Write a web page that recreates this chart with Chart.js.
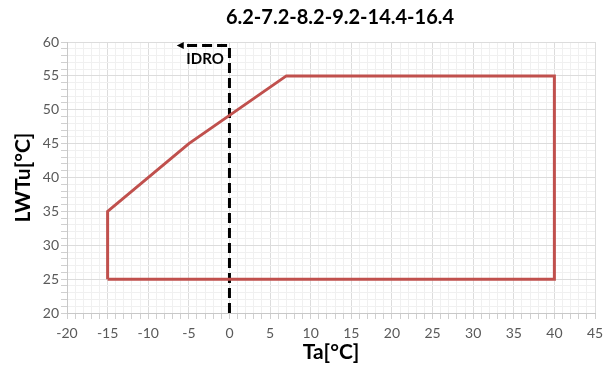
<!DOCTYPE html>
<html>
<head>
<meta charset="utf-8">
<script src="https://cdn.jsdelivr.net/npm/chart.js@4.4.1/dist/chart.umd.min.js"></script>
<style>
  html, body { margin: 0; padding: 0; background: #fff; }
  #wrap { width: 610px; height: 369px; }
</style>
</head>
<body>
<div id="wrap"><canvas id="envelope"></canvas></div>
<script>
var titleText = "6.2-7.2-8.2-9.2-14.4-16.4"
var xTitle = "Ta[°C]"
var yTitle = "LWTu[°C]"

// operating envelope
var envX = [-15, -15, -5, 7, 40, 40, -15]
var envY = [25, 35, 45, 55, 55, 25, 25]

// IDRO limit line (dashed, arrow at the end)
var idroX = [0, 0, -6]
var idroY = [20, 59.5, 59.5]
var idroLabel = "IDRO"
var idroLabelPos = [-3, 57.5]

var xMin = -20, xMax = 45, yMin = 20, yMax = 60

function toPoints(xs, ys) {
  var pts = []
  for (var i = 0; i < xs.length; ++i) pts.push({x: xs[i], y: ys[i]})
  return pts
}

var FONT = "Lato, 'Open Sans', sans-serif"

var overlay = {
  id: 'overlay',
  afterDatasetsDraw: function(chart) {
    var ctx = chart.ctx
    var xs = chart.scales.x, ys = chart.scales.y
    ctx.save()
    // arrow head at end of IDRO line
    var n = idroX.length - 1
    var px = xs.getPixelForValue(idroX[n]), py = ys.getPixelForValue(idroY[n])
    ctx.fillStyle = '#000'
    ctx.beginPath()
    ctx.moveTo(px - 4, py)
    ctx.lineTo(px + 3, py - 3.5)
    ctx.lineTo(px + 3, py + 3.5)
    ctx.closePath()
    ctx.fill()
    // IDRO label
    ctx.font = "bold 15px " + FONT
    ctx.textAlign = 'center'
    ctx.textBaseline = 'middle'
    ctx.fillText(idroLabel, xs.getPixelForValue(idroLabelPos[0]), ys.getPixelForValue(idroLabelPos[1]))
    // title
    ctx.font = "bold 20px " + FONT
    ctx.fillText(titleText, 340, 18)
    ctx.restore()
  }
}

function gridColor(c) {
  if (c.tick && Math.round(c.tick.value) % 5 === 0) return '#dcdcdc'
  return '#f0f0f0'
}

new Chart(document.getElementById('envelope').getContext('2d'), {
  type: 'scatter',
  data: {
    datasets: [
      {
        label: 'envelope',
        data: toPoints(envX, envY),
        showLine: true,
        borderColor: '#c0504d',
        borderWidth: 3,
        pointRadius: 0,
        fill: false,
        tension: 0
      },
      {
        label: 'IDRO',
        data: toPoints(idroX, idroY),
        showLine: true,
        borderColor: '#000',
        borderWidth: 3,
        borderDash: [10, 5],
        pointRadius: 0,
        fill: false,
        tension: 0
      }
    ]
  },
  options: {
    responsive: true,
    maintainAspectRatio: false,
    animation: false,
    layout: { padding: { left: 7, right: 15, top: 42, bottom: 0 } },
    plugins: {
      legend: { display: false },
      tooltip: { enabled: false }
    },
    scales: {
      x: {
        type: 'linear',
        min: xMin, max: xMax,
        afterFit: function(axis) { axis.height = 56 },
        border: { color: '#c8c8c8', width: 1 },
        grid: { color: gridColor, tickLength: 6, tickColor: '#d0d0d0' },
        ticks: {
          stepSize: 1, autoSkip: false, maxRotation: 0,
          color: '#595959', font: { family: FONT, size: 14 }, padding: 6,
          callback: function(v) { return v % 5 === 0 ? String(v) : '' }
        },
        title: { display: true, text: xTitle, color: '#000', font: { family: FONT, size: 21, weight: 'bold' }, padding: { top: 2 } }
      },
      y: {
        type: 'linear',
        min: yMin, max: yMax,
        afterFit: function(axis) { axis.width = 60 },
        border: { color: '#c8c8c8', width: 1 },
        grid: { color: gridColor, tickLength: 6, tickColor: '#d0d0d0' },
        ticks: {
          stepSize: 1, autoSkip: false,
          color: '#595959', font: { family: FONT, size: 14 }, padding: 2,
          callback: function(v) { return v % 5 === 0 ? String(v) : '' }
        },
        title: { display: true, text: yTitle, color: '#000', font: { family: FONT, size: 21, weight: 'bold' }, padding: { bottom: 0 } }
      }
    }
  },
  plugins: [overlay]
});
</script>
</body>
</html>
